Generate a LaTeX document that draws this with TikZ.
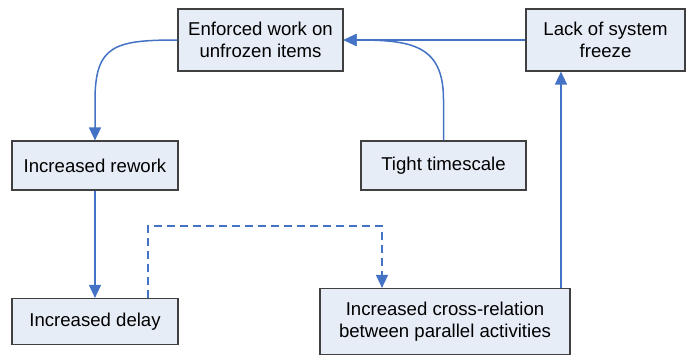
\documentclass[tikz,border=0pt]{standalone}
\usepackage{fontspec}
\setmainfont{Liberation Sans}
\usetikzlibrary{arrows.meta,calc}
\definecolor{boxfill}{RGB}{231,237,247}
\definecolor{boxline}{RGB}{64,64,64}
\definecolor{linkblue}{RGB}{68,114,196}
\begin{document}
\begin{tikzpicture}[x=1pt,y=-1pt,
  box/.style={draw=boxline,line width=1.2pt,fill=boxfill,align=center,
    inner sep=0pt,font=\fontsize{18.6}{22}\selectfont},
  arr/.style={draw=linkblue,line width=1.5pt,
    -{Triangle[length=13pt,width=12pt]}},
  dashlink/.style={arr,dash pattern=on 8pt off 5pt}]
\useasboundingbox (0,0) rectangle (686,356);

\node[box,minimum width=165pt,minimum height=62pt] (enf) at (260.5,40) {Enforced work on\\unfrozen items};
\node[box,minimum width=159pt,minimum height=62pt] (lack) at (605.5,40) {Lack of system\\freeze};
\node[box,minimum width=166pt,minimum height=49pt] (rework) at (95,165.5) {Increased rework};
\node[box,minimum width=165pt,minimum height=49pt] (tight) at (443.5,165.5) {Tight timescale};
\node[box,minimum width=166pt,minimum height=46pt] (delay) at (95,321.5) {Increased delay};
\node[box,minimum width=250pt,minimum height=66pt] (cross) at (445,321.5) {Increased cross-relation\\between parallel activities};

% causal links
\draw[arr] (lack.west) -- (enf.east);
\draw[arr] (tight.north) -- ++(0,-41) .. controls +(0,-55) and +(67,0) .. (enf.east);
\draw[arr] (enf.west) .. controls +(-63,0) and +(0,-55) .. ($(rework.north)+(0,-40)$) -- (rework.north);
\draw[arr] (rework.south) -- (delay.north);
\draw[dashlink] ([xshift=53pt]delay.north) -- ++(0,-72) -| ([xshift=-63pt]cross.north);
\coordinate (crossout) at ([xshift=116pt]cross.north);
\draw[arr] (crossout) -- (crossout |- lack.south);
\end{tikzpicture}
\end{document}
